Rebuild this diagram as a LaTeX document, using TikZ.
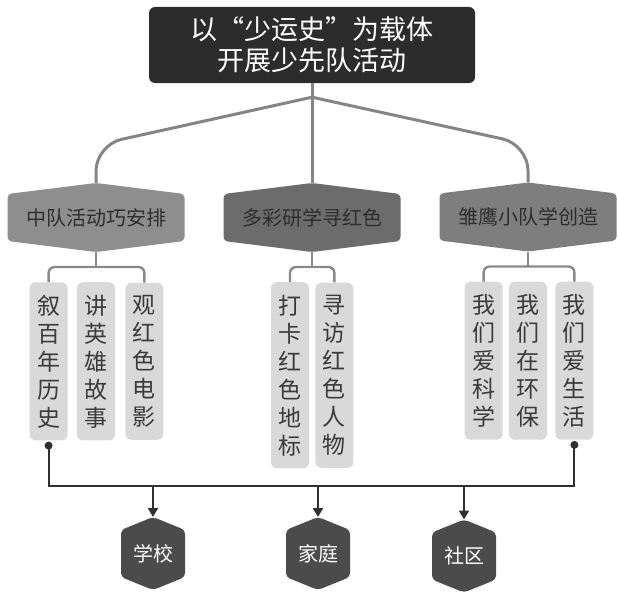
\documentclass[tikz,border=0pt]{standalone}
\usepackage{fontspec}
\newfontfamily\syfont{Noto Sans CJK SC}
\usetikzlibrary{arrows.meta,positioning}
\definecolor{sytop}{HTML}{2C2C2C}
\definecolor{syink}{HTML}{303030}
\definecolor{sybrancha}{HTML}{8E8E8E}
\definecolor{sybranchb}{HTML}{6C6C6C}
\definecolor{sybranchc}{HTML}{7E7E7E}
\definecolor{syhextext}{HTML}{2E2E2E}
\definecolor{syleaffill}{HTML}{D9D9D9}
\definecolor{syleaftext}{HTML}{3A3A3A}
\definecolor{syplacefill}{HTML}{4B4B4B}
\definecolor{sytrunkgrey}{HTML}{858585}
\definecolor{sybracegrey}{HTML}{8A8A8A}
\tikzset{
  syhex/.style 2 args={outer sep=0pt, inner sep=0pt,
    path picture={\fill[#1, rounded corners=4pt]
      (path picture bounding box.north)
      -- ([yshift=-#2]path picture bounding box.north east)
      -- ([yshift=#2]path picture bounding box.south east)
      -- (path picture bounding box.south)
      -- ([yshift=#2]path picture bounding box.south west)
      -- ([yshift=-#2]path picture bounding box.north west) -- cycle;}},
  sytitle/.style={fill=sytop, text=white, rounded corners=6pt, align=center,
    minimum width=326pt, minimum height=76pt, font=\syfont\fontsize{27}{31}\selectfont},
  sybranch/.style={minimum width=177pt, minimum height=69pt, text=syhextext,
    font=\syfont\fontsize{20}{22}\selectfont},
  syleaf/.style={fill=syleaffill, rounded corners=6pt, text=syleaftext, align=center,
    minimum width=38pt, inner xsep=0pt, inner ysep=12.5pt, anchor=north,
    font=\syfont\fontsize{23}{28}\selectfont},
  syplace/.style={minimum width=64pt, minimum height=73pt, text=white,
    font=\syfont\fontsize{20}{24}\selectfont},
  sytrunk/.style={draw=sytrunkgrey, line width=3pt, rounded corners=26pt},
  sybrace/.style={draw=sybracegrey, line width=2.4pt, rounded corners=6pt},
  syline/.style={draw=syink, line width=2pt},
  syarr/.style={-{Triangle[length=9pt,width=10pt]}, line width=2pt, draw=syink},
}

\begin{document}
\begin{tikzpicture}[x=1pt, y=-1pt]
  \useasboundingbox (0,0) rectangle (618,594);
  \node[sytitle] (top) at (312,45) {以“少运史”为载体\\开展少先队活动};

  \node[sybranch, syhex={sybrancha}{11pt}] (hexA) at (96,217.5) {中队活动巧安排};
  \node[sybranch, syhex={sybranchb}{11pt}] (hexB) at (312,217.5) {多彩研学寻红色};
  \node[sybranch, syhex={sybranchc}{11pt}] (hexC) at (528,217) {雏鹰小队学创造};

  \coordinate (split) at ([yshift=-14pt]top.south);
  \draw[sytrunk] (top.south) -- (hexB.north);
  \draw[sytrunk] (split) -- ([yshift=38pt]hexA.north) -- (hexA.north);
  \draw[sytrunk] (split) -- ([yshift=38pt]hexC.north) -- (hexC.north);

  \node[syleaf, below=30pt of hexA] (leafA2) {讲\\英\\雄\\故\\事};
  \node[syleaf, left=9pt of leafA2] (leafA1) {叙\\百\\年\\历\\史};
  \node[syleaf, right=10pt of leafA2] (leafA3) {观\\红\\色\\电\\影};
  \node[syleaf] (leafB1) at ([xshift=-22pt,yshift=-30pt]hexB.south) {打\\卡\\红\\色\\地\\标};
  \node[syleaf, right=6pt of leafB1] (leafB2) {寻\\访\\红\\色\\人\\物};
  \node[syleaf, below=30pt of hexC] (leafC2) {我\\们\\在\\环\\保};
  \node[syleaf, left=6pt of leafC2] (leafC1) {我\\们\\爱\\科\\学};
  \node[syleaf, right=8pt of leafC2] (leafC3) {我\\们\\爱\\生\\活};

  \draw[sybrace] (hexA.south) -- ++(0,15) coordinate (forkA);
  \draw[sybrace] (leafA1.north) -- (leafA1.north |- forkA) -- (leafA3.north |- forkA) -- (leafA3.north);
  \draw[sybrace] (hexB.south) -- ++(0,15) coordinate (forkB);
  \draw[sybrace] (leafB1.north) -- (leafB1.north |- forkB) -- (leafB2.north |- forkB) -- (leafB2.north);
  \draw[sybrace] (hexC.south) -- ++(0,15) coordinate (forkC);
  \draw[sybrace] (leafC1.north) -- (leafC1.north |- forkC) -- (leafC3.north |- forkC) -- (leafC3.north);

  \node[syplace, syhex={syplacefill}{13pt}] (school) at (153,553.5) {学校};
  \node[syplace, syhex={syplacefill}{13pt}] (home) at (318,553.5) {家庭};
  \node[syplace, syhex={syplacefill}{13pt}] (community) at (464,556) {社区};

  \coordinate (bus) at (0,486);
  \coordinate (dotL) at ([yshift=-5pt]leafA1.south);
  \coordinate (dotR) at ([yshift=-5pt]leafC3.south);
  \draw[syline] (dotL) -- (dotL |- bus) -- (dotR |- bus) -- (dotR);
  \fill[syink] (dotL) circle (4pt) (dotR) circle (4pt);
  \draw[syarr] (school.north |- bus) -- (school.north);
  \draw[syarr] (home.north |- bus) -- (home.north);
  \draw[syarr] (community.north |- bus) -- (community.north);
\end{tikzpicture}
\end{document}
